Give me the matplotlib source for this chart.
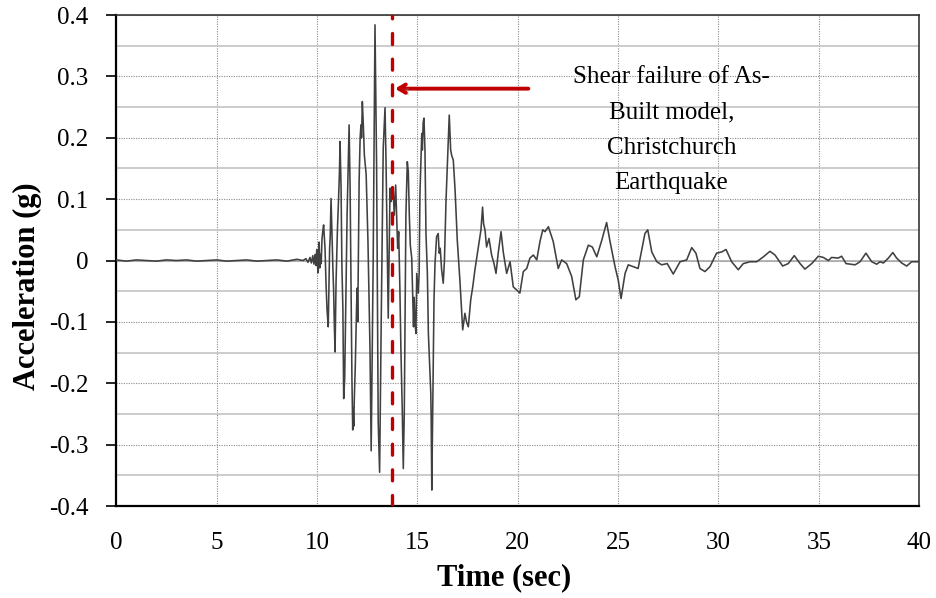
import numpy as np
import matplotlib
matplotlib.use("Agg")
import matplotlib.pyplot as plt
import matplotlib.patheffects as pe
from matplotlib.ticker import FixedLocator

# Recorded ground acceleration (g) against time (sec)
time_sec = [
    0.0, 0.5, 1.0, 1.5, 2.0, 2.5, 3.0, 3.5, 4.0, 4.5, 5.0, 5.5, 6.0, 6.5, 7.0,
    7.5, 8.0, 8.5, 9.0, 9.3, 9.45, 9.55, 9.65, 9.72, 9.79, 9.85, 9.9, 9.95,
    9.99, 10.03, 10.06, 10.09, 10.11, 10.14, 10.18, 10.21, 10.25, 10.28, 10.33,
    10.40, 10.45, 10.50, 10.56, 10.63, 10.66, 10.70, 10.75, 10.79, 10.83, 10.86,
    10.90, 10.95, 11.02, 11.07, 11.12, 11.15, 11.20, 11.24, 11.29, 11.33, 11.38,
    11.43, 11.50, 11.55, 11.60, 11.65, 11.70, 11.74, 11.78, 11.80, 11.83, 11.86,
    11.91, 11.97, 12.00, 12.03, 12.06, 12.10, 12.15, 12.19, 12.22, 12.26, 12.31,
    12.36, 12.45, 12.54, 12.58, 12.64, 12.70, 12.80, 12.89, 12.97, 13.05, 13.12,
    13.20, 13.30, 13.39, 13.44, 13.50, 13.55, 13.60, 13.64, 13.68, 13.72, 13.80,
    13.85, 13.92, 13.99, 14.02, 14.07, 14.13, 14.18, 14.25, 14.30, 14.35, 14.39,
    14.43, 14.50, 14.55, 14.60, 14.65, 14.72, 14.77, 14.81, 14.84, 14.88, 14.93,
    14.97, 15.05, 15.09, 15.13, 15.22, 15.25, 15.29, 15.33, 15.38, 15.43, 15.50,
    15.55, 15.67, 15.69, 15.72, 15.77, 15.83, 15.88, 15.96, 16.04, 16.09, 16.14,
    16.21, 16.29, 16.35, 16.43, 16.54, 16.59, 16.66, 16.72, 16.79, 16.88, 16.99,
    17.12, 17.26, 17.37, 17.45, 17.54, 17.66, 17.76, 17.87, 18.04, 18.17, 18.25,
    18.30, 18.37, 18.45, 18.57, 18.70, 18.82, 18.92, 19.03, 19.17, 19.28, 19.45,
    19.62, 19.78, 19.95, 20.11, 20.28, 20.45, 20.61, 20.78, 20.95, 21.11, 21.25,
    21.36, 21.53, 21.77, 22.02, 22.19, 22.44, 22.69, 22.90, 23.07, 23.27, 23.52,
    23.72, 23.94, 24.19, 24.43, 24.60, 24.85, 25.01, 25.15, 25.35, 25.51, 25.76,
    26.00, 26.18, 26.34, 26.48, 26.68, 26.93, 27.17, 27.45, 27.75, 28.09, 28.42,
    28.67, 28.88, 29.08, 29.33, 29.58, 29.91, 30.17, 30.38, 30.66, 30.99, 31.24,
    31.58, 31.91, 32.24, 32.57, 32.82, 33.20, 33.48, 33.78, 34.07, 34.31, 34.65,
    34.98, 35.23, 35.48, 35.64, 35.97, 36.14, 36.36, 36.81, 37.06, 37.35, 37.64,
    37.89, 38.05, 38.22, 38.47, 38.69, 38.88, 39.13, 39.38, 39.63, 40.0,
]
accel_g = [
    0.001, -0.001, 0.001, 0.0, -0.001, 0.001, 0.0, 0.001, -0.001, 0.0, 0.001,
    -0.001, 0.0, 0.001, -0.001, 0.0, 0.001, -0.001, 0.002, 0.0, 0.003, -0.003,
    0.005, -0.004, 0.008, -0.006, 0.010, -0.008, 0.018, -0.010, -0.020, 0.015,
    0.030, -0.012, 0.010, -0.005, 0.035, 0.045, 0.058,
    0.020, -0.038, -0.080, -0.108, 0.020, 0.040, 0.101, 0.040, -0.010, -0.050,
    -0.100, -0.149, -0.035, 0.052, 0.096, 0.145, 0.194, 0.118, -0.007, -0.078,
    -0.225, -0.192, -0.078, 0.074, 0.145, 0.221, 0.118, -0.062, -0.190, -0.276,
    -0.240, -0.270, -0.225, -0.170, -0.078, -0.045, -0.100, 0.000, 0.130, 0.200,
    0.221, 0.200, 0.259, 0.220, 0.172, 0.140, 0.031, -0.040, -0.143, -0.310,
    0.000, 0.384, 0.156, -0.263, -0.345, -0.100, 0.183, 0.249, 0.161, 0.020,
    -0.094, 0.020, 0.118, 0.096, 0.100, 0.112, 0.074, 0.123, 0.052, 0.020,
    0.047, -0.045, -0.143, -0.246, -0.339, -0.246, -0.089, 0.074, 0.161, 0.145,
    0.074, 0.025, 0.004, -0.060, -0.108, -0.060, -0.100, -0.119, -0.021, -0.053,
    -0.020, 0.109, 0.207, 0.180, 0.225, 0.232, 0.180, 0.044, -0.021, -0.119,
    -0.216, -0.260, -0.374, -0.227, -0.064, -0.005, 0.039, 0.044, 0.012, 0.020,
    -0.015, -0.037, 0.000, 0.099, 0.196, 0.237, 0.180, 0.170, 0.164, 0.115,
    0.033, -0.032, -0.113, -0.086, -0.100, -0.108, -0.064, -0.043, -0.015,
    0.022, 0.050, 0.087, 0.060, 0.050, 0.022, 0.036, 0.009, -0.005, -0.021,
    0.012, 0.047, 0.014, -0.021, -0.002, -0.043, -0.048, -0.053, -0.018,
    -0.013, 0.004, 0.009, 0.001, 0.031, 0.050, 0.047, 0.055, 0.031, -0.013,
    0.001, -0.005, -0.026, -0.064, -0.059, 0.001, 0.025, 0.022, 0.006, 0.033,
    0.062, 0.031, -0.010, -0.032, -0.062, -0.021, -0.007, -0.010, -0.013,
    0.017, 0.044, 0.050, 0.014, -0.002, -0.007, -0.005, -0.022, -0.002, 0.001,
    0.021, 0.012, -0.013, -0.018, -0.010, 0.012, 0.014, 0.018, -0.002, -0.015,
    -0.005, -0.002, -0.002, 0.006, 0.015, 0.009, -0.009, -0.005, 0.008, -0.005,
    -0.014, -0.005, 0.007, 0.005, 0.000, 0.005, 0.004, 0.007, -0.005, -0.007,
    -0.002, 0.012, -0.002, -0.006, -0.002, -0.004, 0.004, 0.013, 0.004,
    -0.004, -0.009, -0.002, -0.002,
]

x_ticks = [0, 5, 10, 15, 20, 25, 30, 35, 40]
x_tick_labels = ["0", "5", "10", "15", "20", "25", "30", "35", "40"]
y_ticks = [-0.4, -0.3, -0.2, -0.1, 0.0, 0.1, 0.2, 0.3, 0.4]
y_tick_labels = ["-0.4", "-0.3", "-0.2", "-0.1", "0", "0.1", "0.2", "0.3", "0.4"]
y_minor = [-0.35, -0.25, -0.15, -0.05, 0.05, 0.15, 0.25, 0.35]

failure_time = 13.72
note_text = "Shear failure of As-\nBuilt model,\nChristchurch\nEarthquake"
note_pos = (27.66, 0.2126)
arrow_tail = (20.53, 0.28)
arrow_head = (13.89, 0.28)

serif = ["Liberation Serif", "DejaVu Serif"]
plt.rcParams["font.family"] = serif

fig = plt.figure(figsize=(9.37, 5.98), dpi=100)
ax = fig.add_axes([0.1241, 0.1538, 0.8568, 0.8211])

ax.set_xlim(0, 40)
ax.set_ylim(-0.4, 0.4)

# gridlines: dotted at major steps, solid light grey at half steps
ax.yaxis.set_minor_locator(FixedLocator(y_minor))
ax.set_xticks(x_ticks)
ax.set_xticklabels(x_tick_labels)
ax.set_yticks(y_ticks)
ax.set_yticklabels(y_tick_labels)
ax.grid(True, which="major", axis="both", linestyle=(0, (1, 1.2)),
        color="#8c8c8c", linewidth=0.8)
ax.grid(True, which="minor", axis="y", linestyle="-", color="#c4c4c4",
        linewidth=1.2)
ax.axhline(0, color="#a8a8a8", linewidth=1.2, zorder=1)
ax.set_axisbelow(True)

ax.tick_params(axis="y", which="major", direction="out", length=7, width=1.2,
               pad=13, labelsize=18, colors="black")
ax.tick_params(axis="x", which="major", length=0, pad=19, labelsize=18)
ax.tick_params(which="minor", length=0)

for side in ("left", "bottom"):
    ax.spines[side].set_linewidth(1.6)
    ax.spines[side].set_color("black")
for side in ("top", "right"):
    ax.spines[side].set_linewidth(1.1)
    ax.spines[side].set_color("#262626")

ax.plot(time_sec, accel_g, color="#404040", linewidth=1.15, zorder=3)

ax.axvline(failure_time, color="#C00000", linewidth=2.4,
           linestyle=(0, (3.3, 4.4)), dash_capstyle="round", zorder=4)

arrow = ax.annotate("", xy=arrow_head, xytext=arrow_tail,
                    arrowprops=dict(arrowstyle="->,head_length=0.5,head_width=0.3",
                                    color="#C00000", lw=2.8,
                                    shrinkA=0, shrinkB=0), zorder=5)
arrow.arrow_patch.set_path_effects([
    pe.SimplePatchShadow(offset=(2, -2), shadow_rgbFace="#808080", alpha=0.35),
    pe.Normal(),
])

ax.text(note_pos[0], note_pos[1], note_text, ha="center", va="center",
        fontsize=18, linespacing=1.8, color="black", zorder=6)

ax.set_xlabel("Time (sec)", fontsize=22, fontweight="bold")
ax.set_ylabel("Acceleration (g)", fontsize=22, fontweight="bold")
ax.xaxis.set_label_coords(0.483, -0.147)
ax.xaxis.label.set_verticalalignment("center")
ax.yaxis.set_label_coords(-0.111, 0.448)
ax.yaxis.label.set_verticalalignment("center")

fig.savefig("out.png", dpi=100, facecolor="white")
